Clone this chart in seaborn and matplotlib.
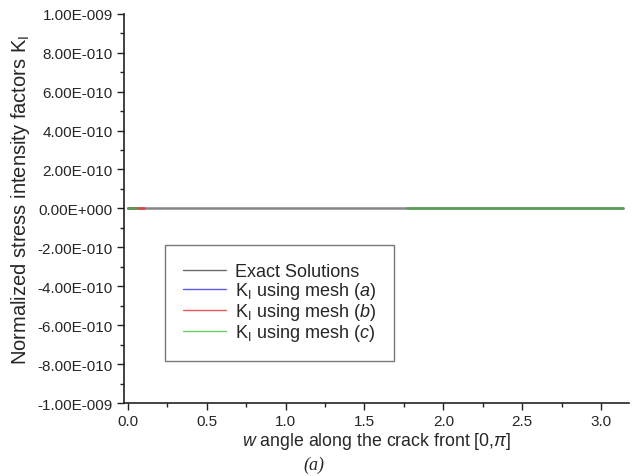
import numpy as np
import pandas as pd
import matplotlib
matplotlib.use("Agg")
import matplotlib.pyplot as plt
import seaborn as sns
from matplotlib.ticker import MultipleLocator

# series (x ranges where each line is visible, value is K_I = 0)
exact_x = [0.0, 3.14]
exact_y = [0.0, 0.0]
mesh_a_x = [0.0, 0.05]
mesh_a_y = [0.0, 0.0]
mesh_b_x = [0.0, 0.1]
mesh_b_y = [0.0, 0.0]
mesh_c_x = [0.0, 0.05, 1.77, 3.14]
mesh_c_y = [0.0, 0.0, 0.0, 0.0]
mesh_c_seg = [0, 0, 1, 1]

y_ticks = [-1e-9, -8e-10, -6e-10, -4e-10, -2e-10, 0.0, 2e-10, 4e-10, 6e-10, 8e-10, 1e-9]
y_tick_labels = ["-1.00E-009", "-8.00E-010", "-6.00E-010", "-4.00E-010", "-2.00E-010",
                 "0.00E+000", "2.00E-010", "4.00E-010", "6.00E-010", "8.00E-010", "1.00E-009"]

labels = ["Exact Solutions",
          r"K$_\mathregular{I}$ using mesh ($a$)",
          r"K$_\mathregular{I}$ using mesh ($b$)",
          r"K$_\mathregular{I}$ using mesh ($c$)"]
line_colors = ["#858585", "#4848d8", "#d04848", "#55a055"]
legend_colors = ["#6a6a6a", "#5a5ae6", "#e65a5a", "#66cc66"]

df = pd.concat([
    pd.DataFrame({"x": exact_x, "y": exact_y, "series": labels[0], "seg": 0}),
    pd.DataFrame({"x": mesh_a_x, "y": mesh_a_y, "series": labels[1], "seg": 0}),
    pd.DataFrame({"x": mesh_b_x, "y": mesh_b_y, "series": labels[2], "seg": 0}),
    pd.DataFrame({"x": mesh_c_x, "y": mesh_c_y, "series": labels[3], "seg": mesh_c_seg}),
], ignore_index=True)

sns.set_style("ticks")
plt.rcParams["font.family"] = ["Liberation Sans", "DejaVu Sans"]
plt.rcParams["mathtext.fontset"] = "custom"
plt.rcParams["mathtext.rm"] = "Liberation Sans"
plt.rcParams["mathtext.it"] = "Liberation Sans:italic"

fig = plt.figure(figsize=(6.32, 4.77), dpi=100)
ax = fig.add_axes([0.196, 0.153, 0.80, 0.816])

sns.lineplot(data=df, x="x", y="y", hue="series", units="seg", estimator=None,
             palette=dict(zip(labels, line_colors)), hue_order=labels, linewidth=1.8,
             sort=False, ax=ax, legend=False)

ax.set_xlim(-0.025, 3.18)
ax.set_ylim(-1e-9, 1e-9)
ax.set_yticks(y_ticks)
ax.set_yticklabels(y_tick_labels)
ax.yaxis.set_minor_locator(MultipleLocator(1e-10))
ax.xaxis.set_major_locator(MultipleLocator(0.5))
ax.xaxis.set_minor_locator(MultipleLocator(0.25))
ax.xaxis.set_major_formatter(matplotlib.ticker.FormatStrFormatter("%.1f"))
ax.tick_params(which="major", direction="out", length=5, width=1, labelsize=11, color="#222222", pad=3)
ax.tick_params(which="minor", direction="out", length=3, width=1, color="#222222")
for s in ["top", "right"]:
    ax.spines[s].set_visible(False)
for s in ["left", "bottom"]:
    ax.spines[s].set_color("#222222")
    ax.spines[s].set_linewidth(1.2)

ax.set_xlabel(r"$w$ angle along the crack front [0,$\pi$]", fontsize=12.8, labelpad=1)
ax.set_ylabel(r"Normalized stress intensity factors K$_\mathregular{I}$", fontsize=14.5)
ax.yaxis.set_label_coords(-0.182, 0.525)

handles = [plt.Line2D([], [], color=c, lw=1.0) for c in legend_colors]
leg = ax.legend(handles, labels, loc="upper left", bbox_to_anchor=(0.081, 0.405),
                fontsize=13, frameon=True, fancybox=False, edgecolor="#555555",
                handlelength=2.4, handletextpad=0.5, labelspacing=0.0,
                borderpad=1.0, borderaxespad=0)
leg.get_frame().set_linewidth(1.0)

fig.text(0.496, 0.014, "(a)", ha="center", fontsize=13, family="Liberation Serif", style="italic")

fig.savefig("out.png", dpi=100)
